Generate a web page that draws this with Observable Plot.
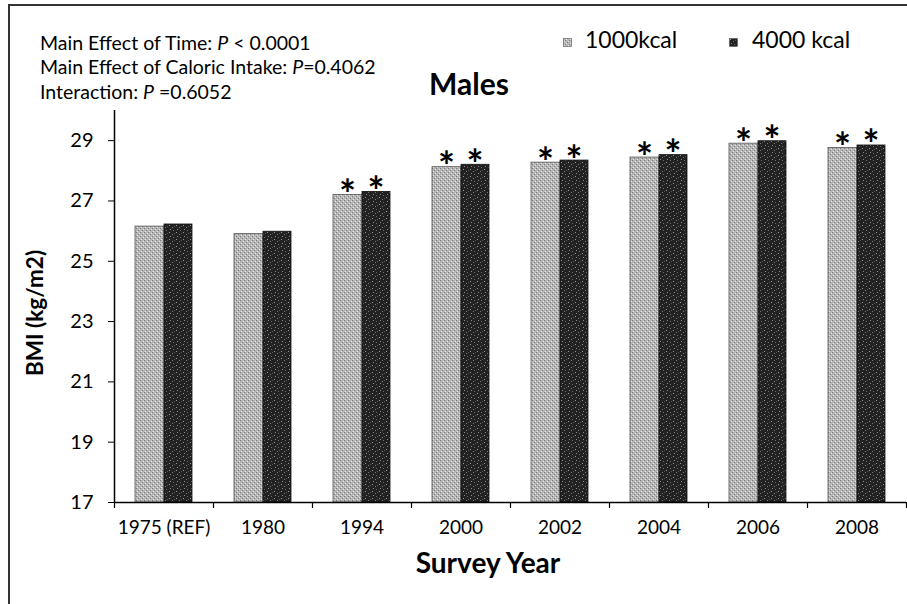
<!DOCTYPE html>
<html><head><meta charset="utf-8">
<script src="https://cdn.jsdelivr.net/npm/d3@7"></script>
<script src="https://cdn.jsdelivr.net/npm/@observablehq/plot@0.6"></script>
<style>
html,body{margin:0;padding:0;background:#fff;overflow:hidden;}
#wrap{position:relative;width:907px;height:604px;font-family:Lato,"Open Sans",sans-serif;color:#000;}
#border{position:absolute;left:8px;top:4px;width:1000px;height:1000px;border:2px solid #333;box-sizing:border-box;}
.abs{position:absolute;white-space:nowrap;line-height:1.2;}
.stat{font-size:19.5px;left:40px;}
</style></head>
<body>
<div id="wrap">
<div id="border"></div>
<div id="chart" class="abs" style="left:0;top:0"></div>
<div class="abs stat" style="top:31px">Main Effect of Time: <i>P</i> &lt; 0.0001</div>
<div class="abs stat" style="top:55px">Main Effect of Caloric Intake: <i>P</i>=0.4062</div>
<div class="abs stat" style="top:80px">Interaction: <i>P</i> =0.6052</div>
<div class="abs" style="left:469px;top:65px;transform:translateX(-50%);font-size:30px;font-weight:bold;">Males</div>
<div class="abs" style="left:488px;top:546px;transform:translateX(-50%);font-size:28px;font-weight:bold;">Survey Year</div>
<div class="abs" style="left:34px;top:313px;transform:translate(-50%,-50%) rotate(-90deg);font-size:22.5px;font-weight:bold;">BMI (kg/m2)</div>
<div id="legend"></div>
</div>
<script>
const years = ["1975 (REF)", "1980", "1994", "2000", "2002", "2004", "2006", "2008"];
const bmi1000 = [26.15, 25.9, 27.2, 28.12, 28.27, 28.44, 28.9, 28.76];
const bmi4000 = [26.22, 25.98, 27.3, 28.2, 28.34, 28.52, 28.98, 28.84];
const significant = [false, false, true, true, true, true, true, true];
const seriesNames = ["1000kcal", "4000 kcal"];
const yTicks = [17, 19, 21, 23, 25, 27, 29];

const rows1000 = years.map((y, i) => ({year: y, bmi: bmi1000[i], sig: significant[i]}));
const rows4000 = years.map((y, i) => ({year: y, bmi: bmi4000[i], sig: significant[i]}));

const font = "Lato, 'Open Sans', sans-serif";
const plot = Plot.plot({
  width: 907,
  height: 604,
  marginTop: 110,
  marginBottom: 102,
  marginLeft: 114,
  marginRight: 1,
  style: {fontFamily: font, fontSize: "19px", color: "#000", background: "transparent"},
  x: {domain: years, paddingInner: 0, paddingOuter: 0, label: null},
  y: {domain: [17, 30], label: null},
  marks: [
    Plot.barY(rows1000, {x: "year", y1: 17, y2: "bmi", insetLeft: 21, insetRight: 49, fill: "url(#p1000)", stroke: "#555", strokeWidth: 0.8}),
    Plot.barY(rows4000, {x: "year", y1: 17, y2: "bmi", insetLeft: 50, insetRight: 21, fill: "url(#p4000)", stroke: "#111", strokeWidth: 0.8}),
    Plot.text(rows1000.filter(d => d.sig), {x: "year", y: "bmi", text: () => "*", dx: -14.5, dy: 14, lineAnchor: "bottom", fontSize: 40, fontWeight: "bold", fill: "#000"}),
    Plot.text(rows4000.filter(d => d.sig), {x: "year", y: "bmi", text: () => "*", dx: 14, dy: 14, lineAnchor: "bottom", fontSize: 40, fontWeight: "bold", fill: "#000"}),
    Plot.ruleY([17], {stroke: "#000", strokeWidth: 1.5}),
    Plot.ruleX([years[0]], {y1: 17, y2: 30, dx: -49.5, stroke: "#000", strokeWidth: 1.5}),
    Plot.ruleX(years, {y1: 17, y2: 17, insetBottom: -6, dx: -49.5, stroke: "#000", strokeWidth: 1.2}),
    Plot.ruleX([years[years.length - 1]], {y1: 17, y2: 17, insetBottom: -6, dx: 49.5, stroke: "#000", strokeWidth: 1.2}),
    Plot.axisY({ticks: yTicks, tickSize: 6, tickPadding: 15, tickFormat: d => String(d), label: null, fontSize: 20}),
    Plot.axisX({tickSize: 0, tickPadding: 18, label: null, fontSize: 19})
  ]
});

// SVG patterns for bar textures
const ns = "http://www.w3.org/2000/svg";
const defs = document.createElementNS(ns, "defs");
defs.innerHTML = `
<pattern id="p1000" patternUnits="userSpaceOnUse" width="4" height="4">
  <rect width="4" height="4" fill="#b6b6b6"/>
  <rect x="0" y="0" width="1" height="1" fill="#7a7a7a"/>
  <rect x="2" y="2" width="1" height="1" fill="#7a7a7a"/>
  <rect x="1" y="3" width="1" height="1" fill="#e6e6e6"/>
  <rect x="3" y="1" width="1" height="1" fill="#e6e6e6"/>
</pattern>
<pattern id="p4000" patternUnits="userSpaceOnUse" width="7" height="7">
  <rect width="7" height="7" fill="#222"/>
  <rect x="1" y="1" width="1" height="1" fill="#9a9a9a"/>
  <rect x="4" y="3" width="1" height="1" fill="#7a7a7a"/>
  <rect x="2" y="5" width="1" height="1" fill="#8a8a8a"/>
  <rect x="5" y="6" width="1" height="1" fill="#6a6a6a"/>
  <rect x="6" y="2" width="1" height="1" fill="#555"/>
</pattern>`;
plot.insertBefore(defs, plot.firstChild);
document.getElementById("chart").appendChild(plot);

// legend
const legend = document.getElementById("legend");
const legendItems = [
  {name: seriesNames[0], fill: "url(#p1000)", sx: 563, tx: 585},
  {name: seriesNames[1], fill: "url(#p4000)", sx: 729, tx: 752}
];
legendItems.forEach(it => {
  const s = document.createElementNS(ns, "svg");
  s.setAttribute("width", 9); s.setAttribute("height", 9);
  s.style.position = "absolute"; s.style.left = it.sx + "px"; s.style.top = "38px";
  s.innerHTML = `<rect x="0.5" y="0.5" width="8" height="8" fill="${it.fill}" stroke="#555" stroke-width="0.6"/>`;
  legend.appendChild(s);
  const t = document.createElement("div");
  t.className = "abs"; t.style.left = it.tx + "px"; t.style.top = "26px"; t.style.fontSize = "23px";
  t.textContent = it.name;
  legend.appendChild(t);
});
</script>
</body></html>
